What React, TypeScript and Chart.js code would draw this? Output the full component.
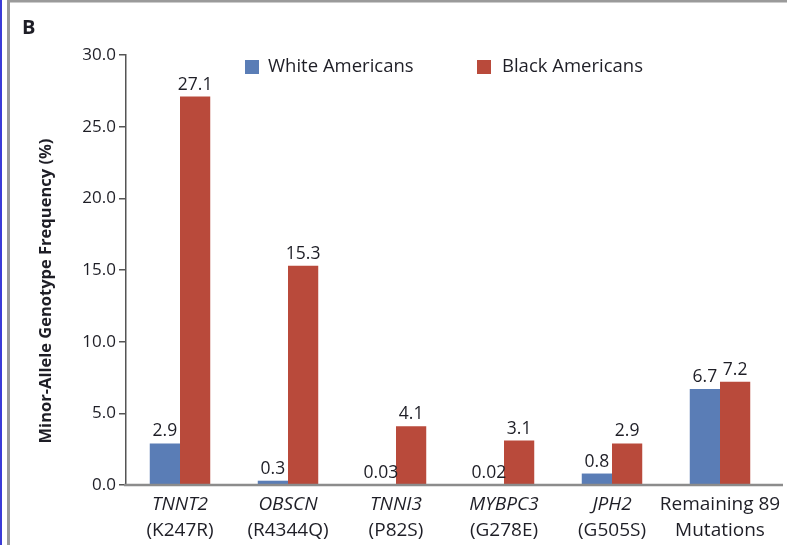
import React, { useEffect, useRef } from "react";
import { Chart, registerables } from "chart.js";

Chart.register(...registerables);

const geneNames = ["TNNT2", "OBSCN", "TNNI3", "MYBPC3", "JPH2", "Remaining 89"];
const variantNames = ["(K247R)", "(R4344Q)", "(P82S)", "(G278E)", "(G505S)", "Mutations"];
const italicGene = [true, true, true, true, true, false];
const whiteValues = [2.9, 0.3, 0.03, 0.02, 0.8, 6.7];
const blackValues = [27.1, 15.3, 4.1, 3.1, 2.9, 7.2];
const seriesNames = ["White Americans", "Black Americans"];
const yTicks = [0, 5, 10, 15, 20, 25, 30];
const panelLetter = "B";
const yTitle = "Minor-Allele Genotype Frequency (%)";

const FONT = "'Open Sans', sans-serif";
const BLUE = "#5a7db6";
const RED = "#b94a3b";
const TEXT = "#1e1e26";

const decorPlugin = {
  id: "decor",
  beforeDraw(chart: any) {
    const ctx = chart.ctx;
    ctx.save();
    ctx.fillStyle = "#ffffff";
    ctx.fillRect(0, 0, chart.width, chart.height);
    ctx.fillStyle = "#3b3bd6";
    ctx.fillRect(0, 0, 2, chart.height);
    ctx.fillStyle = "#9a9a9a";
    ctx.fillRect(7, 0, 3, chart.height);
    ctx.fillRect(7, 0, chart.width - 7, 2.5);
    ctx.restore();
  },
  afterDraw(chart: any) {
    const ctx = chart.ctx;
    const area = chart.chartArea;
    const xs = chart.scales.x;
    ctx.save();
    ctx.strokeStyle = "#8c8c8c";
    ctx.lineWidth = 2.5;
    ctx.beginPath();
    ctx.moveTo(area.left - 2, area.bottom);
    ctx.lineTo(783, area.bottom);
    ctx.stroke();

    ctx.fillStyle = TEXT;
    ctx.font = `bold 20px ${FONT}`;
    ctx.textAlign = "left";
    ctx.textBaseline = "alphabetic";
    ctx.fillText(panelLetter, 22, 34);

    ctx.save();
    ctx.translate(46, 291);
    ctx.rotate(-Math.PI / 2);
    ctx.font = `bold 16.5px ${FONT}`;
    ctx.textAlign = "center";
    ctx.textBaseline = "middle";
    ctx.fillText(yTitle, 0, 0);
    ctx.restore();

    ctx.textAlign = "center";
    ctx.textBaseline = "middle";
    for (let i = 0; i < geneNames.length; i++) {
      const x = xs.getPixelForValue(i);
      ctx.font = `${italicGene[i] ? "italic " : ""}500 19px ${FONT}`;
      ctx.fillText(geneNames[i], x, 505);
      ctx.font = `500 19px ${FONT}`;
      ctx.fillText(variantNames[i], x, 531);
    }

    ctx.font = `17.5px ${FONT}`;
    ctx.textBaseline = "alphabetic";
    chart.data.datasets.forEach((ds: any, di: number) => {
      const meta = chart.getDatasetMeta(di);
      meta.data.forEach((bar: any, i: number) => {
        ctx.fillText(String(ds.data[i]), bar.x, bar.y - 7);
      });
    });

    const legend = [
      { color: BLUE, name: seriesNames[0], bx: 245, tx: 268 },
      { color: RED, name: seriesNames[1], bx: 477, tx: 502 },
    ];
    ctx.font = `18.5px ${FONT}`;
    ctx.textAlign = "left";
    ctx.textBaseline = "middle";
    legend.forEach((l) => {
      ctx.fillStyle = l.color;
      ctx.fillRect(l.bx, 60, 14, 14);
      ctx.fillStyle = TEXT;
      ctx.fillText(l.name, l.tx, 67);
    });
    ctx.restore();
  },
};

export default function App() {
  const ref = useRef<HTMLCanvasElement>(null);
  useEffect(() => {
    if (!ref.current) return;
    const chart = new Chart(ref.current, {
      type: "bar",
      data: {
        labels: geneNames,
        datasets: [
          { label: seriesNames[0], data: whiteValues, backgroundColor: BLUE, categoryPercentage: 0.56, barPercentage: 1.0 },
          { label: seriesNames[1], data: blackValues, backgroundColor: RED, categoryPercentage: 0.56, barPercentage: 1.0 },
        ],
      },
      options: {
        responsive: false,
        animation: false,
        layout: { padding: { top: 55, right: 13, left: 0, bottom: 0 } },
        plugins: { legend: { display: false }, tooltip: { enabled: false } },
        scales: {
          x: {
            type: "category",
            offset: true,
            grid: { display: false, drawTicks: false },
            border: { display: false },
            ticks: { display: false },
            afterFit: (s: any) => {
              s.height = 60;
            },
          },
          y: {
            min: 0,
            max: 30,
            afterBuildTicks: (s: any) => {
              s.ticks = yTicks.map((v) => ({ value: v }));
            },
            ticks: {
              callback: (v: any) => Number(v).toFixed(1),
              font: { family: FONT, size: 17 },
              color: TEXT,
              padding: 3,
            },
            grid: { drawOnChartArea: false, tickLength: 7, color: "#555", lineWidth: 1.5 },
            border: { color: "#555", width: 1.5 },
            afterFit: (s: any) => {
              s.width = 126;
            },
          },
        },
      },
      plugins: [decorPlugin],
    });
    return () => chart.destroy();
  }, []);
  return (
    <div style={{ position: "absolute", left: 0, top: 0, width: 787, height: 545 }}>
      <canvas ref={ref} width={787} height={545} />
    </div>
  );
}
